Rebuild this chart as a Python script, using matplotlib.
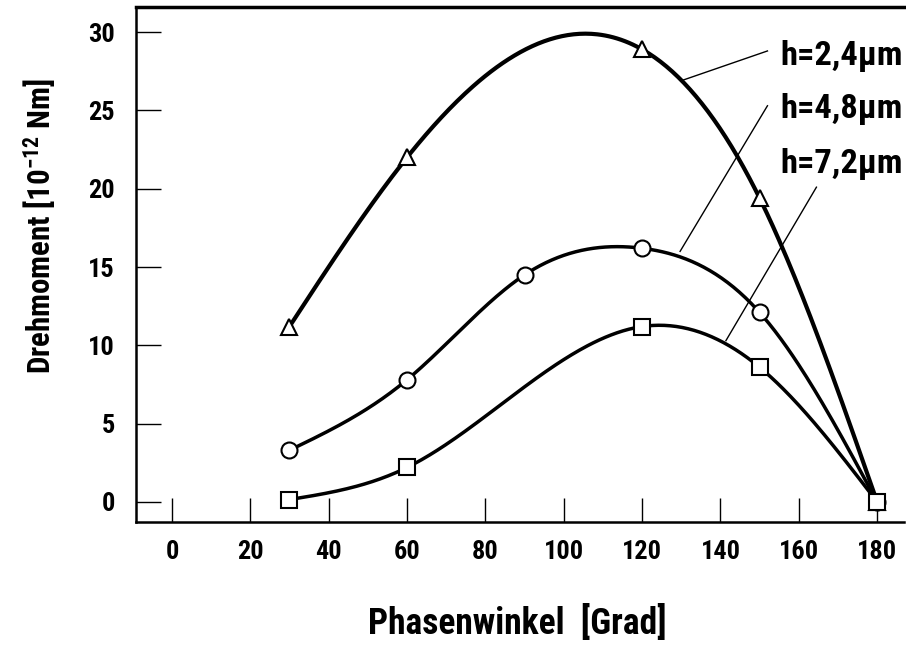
import numpy as np
import matplotlib
matplotlib.use('Agg')
import matplotlib.pyplot as plt
from matplotlib import font_manager

# Drehmoment ueber Phasenwinkel fuer drei Spalthoehen h
labels = ['h=2,4\u00b5m', 'h=4,8\u00b5m', 'h=7,2\u00b5m']
x_tri = [30, 60, 120, 150, 180]
y_tri = [11.2, 22.0, 28.9, 19.4, 0.0]
x_circ = [30, 60, 90, 120, 150, 180]
y_circ = [3.3, 7.8, 14.5, 16.2, 12.1, 0.0]
x_sq = [30, 60, 120, 150, 180]
y_sq = [0.15, 2.2, 11.2, 8.6, 0.0]
xticks = [0, 20, 40, 60, 80, 100, 120, 140, 160, 180]
yticks = [0, 5, 10, 15, 20, 25, 30]

# schmale fette Schrift suchen
names = set(f.name for f in font_manager.fontManager.ttflist)
fam = 'DejaVu Sans'
for cand in ['Roboto Condensed', 'Liberation Sans Narrow', 'Roboto']:
    if cand in names:
        fam = cand
        break
plt.rcParams['font.family'] = [fam, 'DejaVu Sans']
plt.rcParams['font.weight'] = 'bold'
plt.rcParams['mathtext.fontset'] = 'custom'
plt.rcParams['mathtext.rm'] = fam + ':bold'
plt.rcParams['mathtext.bf'] = fam + ':bold'

fig = plt.figure(figsize=(9.06, 6.46), dpi=100)
ax = fig.add_axes([0.150, 0.192, 0.848, 0.797])


def spline(xs, ys, n=300):
    # natuerlicher kubischer Spline durch die Messpunkte
    xs = np.asarray(xs, float)
    ys = np.asarray(ys, float)
    k = len(xs)
    h = np.diff(xs)
    A = np.zeros((k, k))
    r = np.zeros(k)
    A[0, 0] = A[-1, -1] = 1
    for i in range(1, k - 1):
        A[i, i - 1] = h[i - 1]
        A[i, i] = 2 * (h[i - 1] + h[i])
        A[i, i + 1] = h[i]
        r[i] = 6 * ((ys[i + 1] - ys[i]) / h[i] - (ys[i] - ys[i - 1]) / h[i - 1])
    m = np.linalg.solve(A, r)
    xx = np.linspace(xs[0], xs[-1] + 0.6, n)
    idx = np.clip(np.searchsorted(xs, xx) - 1, 0, k - 2)
    x0, x1 = xs[idx], xs[idx + 1]
    hh = x1 - x0
    a = (x1 - xx) / hh
    b = (xx - x0) / hh
    yy = (a * ys[idx] + b * ys[idx + 1]
          + ((a ** 3 - a) * m[idx] + (b ** 3 - b) * m[idx + 1]) * hh ** 2 / 6)
    return xx, yy


for xs, ys, mk, lw in [(x_tri, y_tri, '^', 3.0),
                       (x_circ, y_circ, 'o', 2.5),
                       (x_sq, y_sq, 's', 2.5)]:
    xx, yy = spline(xs, ys)
    ax.plot(xx, yy, color='black', lw=lw, zorder=2)
    ax.plot(xs, ys, linestyle='none', marker=mk, markersize=11.5,
            markerfacecolor='white', markeredgecolor='black',
            markeredgewidth=1.5, zorder=3)

# Beschriftungen mit Hinweislinien
ax.plot([152.0, 130.0], [28.8, 26.9], color='black', lw=1.0)
ax.plot([152.0, 129.7], [25.3, 16.0], color='black', lw=1.0)
ax.plot([164.5, 141.4], [20.1, 10.3], color='black', lw=1.0)
txts = []
for lab, yb in zip(labels, [27.9, 24.5, 21.0]):
    txts.append(ax.text(155.2, yb, lab, fontsize=20, fontweight='bold',
                        va='baseline'))

ax.set_xlim(-9.2, 186.9)
ax.set_ylim(-1.28, 31.6)
ax.set_xticks(xticks)
ax.set_yticks(yticks)
ax.tick_params(axis='x', direction='in', length=17, width=1.0, pad=13,
               labelsize=19)
ax.tick_params(axis='y', direction='in', length=18, width=1.0, pad=15,
               labelsize=19)
for t in ax.get_xticklabels() + ax.get_yticklabels():
    t.set_fontweight('bold')

ax.spines['right'].set_visible(False)
ax.spines['top'].set_linewidth(2.5)
ax.spines['left'].set_linewidth(1.8)
ax.spines['bottom'].set_linewidth(1.8)

xl = fig.text(0.571, 1 - 623 / 646, 'Phasenwinkel  [Grad]', fontsize=23,
              fontweight='bold', ha='center', va='center')
yl = fig.text(40 / 906, 1 - 226 / 646, r'Drehmoment [10$^{\mathbf{-12}}$ Nm]',
              fontsize=20, fontweight='bold', ha='center', va='center',
              rotation=90)

# Schriftgroesse an die Breite im Original anpassen
fig.canvas.draw()
r = fig.canvas.get_renderer()
for t, target in [(txts[0], 122), (txts[1], 122), (txts[2], 122), (xl, 300)]:
    w = t.get_window_extent(r).width
    t.set_fontsize(t.get_fontsize() * target / w)
h = yl.get_window_extent(r).height
yl.set_fontsize(yl.get_fontsize() * 295 / h)

fig.savefig('out.png', dpi=100)
